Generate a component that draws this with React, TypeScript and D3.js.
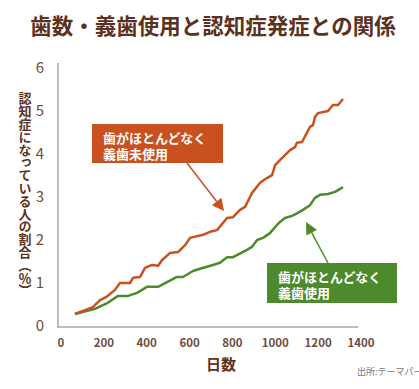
import React, { useEffect, useRef } from "react";
import * as d3 from "d3";

// data: [days, %]
const noDentureDays = [79, 163, 196, 224, 266, 289, 336, 350, 383, 406, 439, 467, 485, 523, 560, 593, 616, 677, 709, 742, 789, 817, 849, 873, 905, 943, 975, 999, 1013, 1036, 1050, 1083, 1106, 1115, 1139, 1176, 1190, 1199, 1213, 1260, 1283, 1307, 1330];
const noDentureRate = [0.28, 0.44, 0.6, 0.67, 0.84, 1.0, 1.0, 1.12, 1.14, 1.35, 1.42, 1.4, 1.53, 1.7, 1.72, 1.88, 2.05, 2.12, 2.19, 2.23, 2.51, 2.53, 2.7, 2.77, 3.09, 3.33, 3.44, 3.51, 3.74, 3.86, 3.93, 4.09, 4.16, 4.26, 4.28, 4.63, 4.67, 4.86, 4.95, 5.0, 5.14, 5.14, 5.28];

const dentureDays = [79, 173, 229, 280, 327, 369, 415, 467, 509, 555, 583, 630, 663, 723, 756, 789, 817, 882, 905, 929, 957, 989, 1022, 1036, 1059, 1092, 1120, 1143, 1176, 1199, 1223, 1260, 1293, 1330];
const dentureRate = [0.28, 0.4, 0.53, 0.7, 0.7, 0.77, 0.91, 0.91, 1.02, 1.14, 1.14, 1.28, 1.33, 1.42, 1.47, 1.6, 1.6, 1.77, 1.84, 2.0, 2.05, 2.16, 2.35, 2.42, 2.51, 2.56, 2.63, 2.7, 2.81, 2.98, 3.05, 3.07, 3.12, 3.23];

const xTicks = [0, 200, 400, 600, 800, 1000, 1200, 1400];
const yTicks = [0, 1, 2, 3, 4, 5, 6];

const title = "歯数・義歯使用と認知症発症との関係";
const yTitle = "認知症になっている人の割合（％）";
const xTitle = "日数";
const source = "出所:テーマパーク";
const redLabel = ["歯がほとんどなく", "義歯未使用"];
const greenLabel = ["歯がほとんどなく", "義歯使用"];

const RED = "#c9511f";
const GREEN = "#4d8a2c";
const BROWN = "#5c3120";
const FONT = "'Noto Sans CJK JP', 'Noto Sans', sans-serif";

export default function App() {
  const ref = useRef<SVGSVGElement>(null);

  useEffect(() => {
    const svg = d3.select(ref.current);
    svg.selectAll("*").remove();

    const x = d3.scaleLinear().domain([0, 1400]).range([58, 358]);
    const y = d3.scaleLinear().domain([0, 6]).range([326, 68]);

    // title
    svg.append("text")
      .attr("x", 213).attr("y", 34)
      .attr("text-anchor", "middle")
      .style("font-size", "21.5px").style("font-weight", "bold")
      .attr("fill", BROWN)
      .text(title);

    // axes lines
    svg.append("line")
      .attr("x1", 58).attr("x2", 58).attr("y1", 63).attr("y2", 327)
      .attr("stroke", "#a9a9a9").attr("stroke-width", 1.5);
    svg.append("line")
      .attr("x1", 57).attr("x2", 358).attr("y1", 327).attr("y2", 327)
      .attr("stroke", "#a9a9a9").attr("stroke-width", 1.5);

    // tick labels
    svg.append("g").selectAll("text").data(yTicks).join("text")
      .attr("x", 40).attr("y", (d) => y(d) + 5)
      .attr("text-anchor", "middle")
      .style("font-size", "15px")
      .attr("fill", "#6e4d3d")
      .text((d) => d);

    svg.append("g").selectAll("text").data(xTicks).join("text")
      .attr("x", (d) => x(d) + 3).attr("y", 347)
      .attr("text-anchor", "middle")
      .style("font-size", "11.5px").style("font-weight", "bold")
      .attr("fill", "#6e4d3d")
      .text((d) => d);

    // axis titles
    svg.append("text")
      .attr("x", 221).attr("y", 370)
      .attr("text-anchor", "middle")
      .style("font-size", "15px").style("font-weight", "bold")
      .attr("fill", BROWN)
      .text(xTitle);

    svg.append("text")
      .attr("x", 25).attr("y", 92)
      .style("writing-mode", "vertical-rl")
      .style("font-size", "13px").style("font-weight", "bold")
      .style("letter-spacing", "-0.2px")
      .attr("fill", BROWN)
      .text(yTitle);

    svg.append("text")
      .attr("x", 357).attr("y", 375)
      .style("font-size", "9px")
      .attr("fill", "#777")
      .text(source);

    // lines
    const line = d3.line<number>()
      .x((d, i) => x(d))
      .curve(d3.curveLinear);

    const red = noDentureDays.map((d, i) => [x(d), y(noDentureRate[i])] as [number, number]);
    const green = dentureDays.map((d, i) => [x(d), y(dentureRate[i])] as [number, number]);
    const path = d3.line();

    svg.append("path").attr("d", path(green))
      .attr("fill", "none").attr("stroke", GREEN).attr("stroke-width", 2.5)
      .attr("stroke-linejoin", "round");
    svg.append("path").attr("d", path(red))
      .attr("fill", "none").attr("stroke", RED).attr("stroke-width", 2.5)
      .attr("stroke-linejoin", "round");

    // annotation boxes + arrows
    function callout(color: string, box: number[], lines: string[], from: number[], to: number[]) {
      const g = svg.append("g");
      const ang = Math.atan2(to[1] - from[1], to[0] - from[0]);
      const head = 12, half = 6;
      const bx = to[0] - head * Math.cos(ang), by = to[1] - head * Math.sin(ang);
      g.append("line")
        .attr("x1", from[0]).attr("y1", from[1]).attr("x2", bx).attr("y2", by)
        .attr("stroke", color).attr("stroke-width", 1.5);
      g.append("polygon")
        .attr("points", [
          to,
          [bx - half * Math.sin(ang), by + half * Math.cos(ang)],
          [bx + half * Math.sin(ang), by - half * Math.cos(ang)],
        ].map((p) => p.join(",")).join(" "))
        .attr("fill", color);
      g.append("rect")
        .attr("x", box[0]).attr("y", box[1]).attr("width", box[2]).attr("height", box[3])
        .attr("fill", color);
      g.selectAll("text.l").data(lines).join("text")
        .attr("x", box[0] + 11).attr("y", (d, i) => box[1] + 19 + i * 16)
        .style("font-size", "13px").style("font-weight", "bold")
        .attr("fill", "#fff")
        .text((d) => d);
    }

    callout(RED, [92, 124, 131, 39], redLabel, [187, 163], [224, 211]);
    callout(GREEN, [267, 263, 130, 40], greenLabel, [328, 263], [306, 222]);
  }, []);

  return (
    <svg
      ref={ref}
      width={419}
      height={389}
      style={{ position: "absolute", left: 0, top: 0, background: "#fff", fontFamily: FONT }}
    />
  );
}
